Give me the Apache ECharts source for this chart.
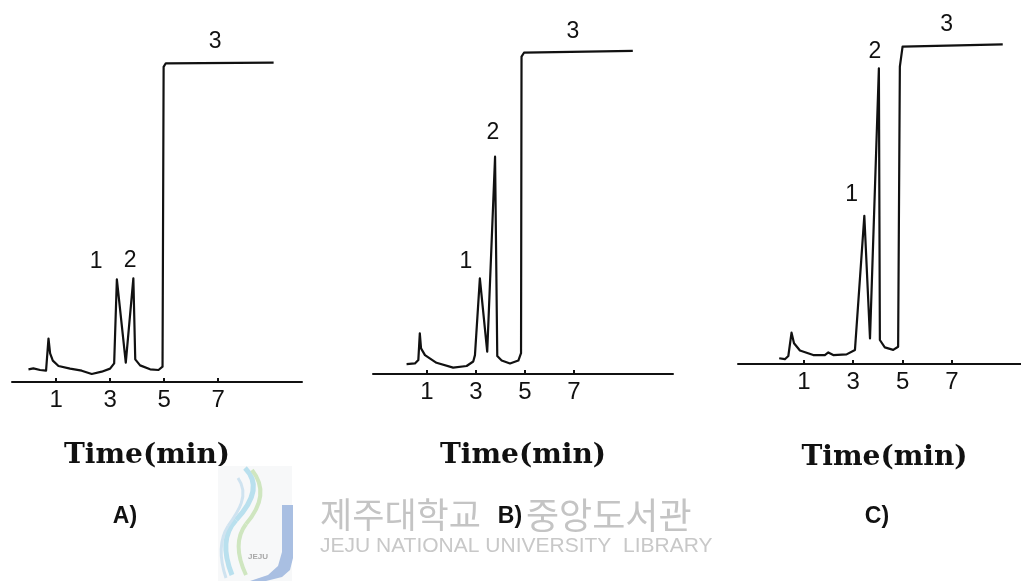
<!DOCTYPE html>
<html>
<head>
<meta charset="utf-8">
<script src="https://cdn.jsdelivr.net/npm/echarts@6/dist/echarts.min.js"></script>
<style>
  html, body { margin: 0; padding: 0; background: #fff; }
  #chart { width: 1021px; height: 581px; }
</style>
</head>
<body>
<div id="chart"></div>
<script>
// Retention time (min) and detector response (relative, plateau of peak 3 ~ 100)
const timeA   = [-0.02, 0.16, 0.41, 0.63, 0.72, 0.78, 0.88, 1.09, 1.52, 1.95, 2.32, 2.69, 3.00, 3.15, 3.25, 3.58, 3.86, 3.93, 4.11, 4.48, 4.79, 4.94, 4.98, 5.06, 9.05];
const signalA = [3.97, 4.27, 3.75, 3.54, 13.6, 8.96, 6.67, 5.0, 4.17, 3.54, 2.5, 3.23, 4.17, 5.83, 32.1, 6.04, 32.4, 7.08, 5.2, 3.96, 3.75, 4.79, 98.5, 99.6, 99.8];

const timeB   = [0.17, 0.51, 0.65, 0.71, 0.76, 0.92, 1.39, 2.07, 2.62, 2.89, 2.96, 3.16, 3.46, 3.78, 3.87, 4.05, 4.39, 4.73, 4.84, 4.86, 4.96, 9.40];
const signalB = [3.1, 3.3, 4.4, 12.7, 8.0, 5.9, 3.5, 2.0, 2.5, 3.9, 5.9, 29.9, 7.0, 67.9, 5.6, 4.2, 3.3, 4.2, 6.5, 99.2, 100.4, 101.0];

const timeC   = [0.00, 0.23, 0.37, 0.50, 0.60, 0.84, 1.38, 1.85, 1.99, 2.19, 2.73, 3.07, 3.45, 3.68, 4.04, 4.08, 4.28, 4.62, 4.82, 4.89, 5.00, 9.06];
const signalC = [1.8, 1.5, 2.5, 9.8, 6.5, 4.2, 2.8, 2.8, 3.6, 2.8, 3.0, 4.4, 46.3, 8.0, 92.4, 7.5, 5.2, 4.4, 5.4, 92.9, 99.2, 99.9];

// Peak numbers: [name, time, height of the label]
const peakLabelsA = [['1', 2.48, 37.5], ['2', 3.74, 37.8], ['3', 6.89, 106.3]];
const peakLabelsB = [['1', 2.59, 35.0], ['2', 3.69, 75.3], ['3', 6.96, 106.9]];
const peakLabelsC = [['1', 2.94, 52.8], ['2', 3.88, 97.5], ['3', 6.79, 105.9]];

const tickValues = [1, 3, 5, 7];
const axisTitle = 'Time(min)';
const panelTitles = ['A)', 'B)', 'C)'];

const zip = (xs, ys) => xs.map((x, i) => [x, ys[i]]);

// Panel geometry (pixels): axis line ends and baseline position
const panels = [
  { left: 12,  width: 290, bottom: 382, min: -0.63, max: 10.10, nameGap: 60, namePad: [0, 20, 0, 0], data: zip(timeA, signalA), peaks: peakLabelsA },
  { left: 373, width: 300, bottom: 374, min: -1.20, max: 11.04, nameGap: 68, namePad: [0, 0, 0, 0],  data: zip(timeB, signalB), peaks: peakLabelsB },
  { left: 738, width: 283, bottom: 364, min: -1.67, max: 9.80,  nameGap: 80, namePad: [0, 0, 0, 10], data: zip(timeC, signalC), peaks: peakLabelsC }
];
const yMax = 110;
const pxPerUnit = 3.2;

const ink = '#111';
const grids = [], xAxes = [], yAxes = [], series = [];

panels.forEach((p, i) => {
  grids.push({ left: p.left, width: p.width, top: p.bottom - yMax * pxPerUnit, height: yMax * pxPerUnit, containLabel: false });
  xAxes.push({
    gridIndex: i, type: 'value', min: p.min, max: p.max,
    axisLine: { show: true, onZero: false, lineStyle: { color: ink, width: 2 } },
    axisTick: { show: true, inside: true, length: 4, customValues: tickValues, lineStyle: { color: ink, width: 2 } },
    axisLabel: { customValues: tickValues, margin: 6, fontSize: 24, color: ink, fontFamily: 'Liberation Sans' },
    splitLine: { show: false },
    name: axisTitle, nameLocation: 'middle', nameGap: p.nameGap,
    nameTextStyle: { fontFamily: 'DejaVu Serif', fontWeight: 'bold', fontSize: 28, color: ink, padding: p.namePad }
  });
  yAxes.push({ gridIndex: i, type: 'value', min: 0, max: yMax, show: false });
  series.push({
    type: 'line', xAxisIndex: i, yAxisIndex: i, data: p.data,
    symbol: 'none', smooth: false,
    lineStyle: { color: ink, width: 2.2, join: 'round' },
    markPoint: {
      symbol: 'circle', symbolSize: 0, silent: true,
      label: { show: true, position: 'inside', formatter: '{b}', fontSize: 23, color: ink, fontFamily: 'Liberation Sans' },
      data: p.peaks.map(([name, t, h]) => ({ name, coord: [t, h] }))
    }
  });
});

// Library watermark (logo + name) drawn beneath the panel captions
const curve = (pts, color, w) => ({
  type: 'bezierCurve', z: 2,
  shape: { x1: pts[0], y1: pts[1], cpx1: pts[2], cpy1: pts[3], cpx2: pts[4], cpy2: pts[5], x2: pts[6], y2: pts[7] },
  style: { fill: 'none', stroke: color, lineWidth: w }
});
const markText = (x, y, text, size) => ({
  type: 'text', z: 2,
  style: { x, y, text, fontSize: size, fill: '#c4c4c4', align: 'left', verticalAlign: 'middle', fontFamily: 'Noto Sans CJK KR' }
});
const watermark = [
  { type: 'rect', shape: { x: 218, y: 466, width: 74, height: 115 }, style: { fill: '#f7f8f9' }, z: 1 },
  curve([245, 468, 262, 485, 250, 505, 236, 520], '#b9e0ee', 5),
  curve([236, 520, 222, 535, 224, 555, 232, 575], '#b9e0ee', 5),
  curve([252, 470, 268, 490, 258, 510, 246, 524], '#cfe6c0', 4),
  curve([246, 524, 234, 540, 238, 558, 246, 575], '#cfe6c0', 4),
  curve([238, 478, 250, 495, 238, 512, 228, 526], '#cfe3f0', 3),
  curve([228, 526, 218, 542, 220, 560, 226, 578], '#cfe3f0', 3),
  { type: 'polygon', z: 2,
    shape: { points: [[282, 505], [293, 505], [293, 558], [290, 570], [282, 577], [266, 581], [250, 581], [268, 575], [278, 566], [282, 552]] },
    style: { fill: '#a9bfe2' } },
  { type: 'text', z: 3, style: { x: 258, y: 557, text: 'JEJU', fontSize: 8, fill: '#a8a8a8', align: 'center', verticalAlign: 'middle', fontFamily: 'Liberation Sans', fontWeight: 'bold' } },
  markText(320, 515, '제주대학교', 35),
  markText(526, 515, '중앙도서관', 36),
  { type: 'text', z: 2, style: { x: 320, y: 546, text: 'JEJU NATIONAL UNIVERSITY  LIBRARY', fontSize: 21, fill: '#c8c8c8', align: 'left', verticalAlign: 'middle', fontFamily: 'Liberation Sans' } }
];

const captionX = [125, 510, 877];
const captions = panelTitles.map((t, i) => ({
  type: 'text', z: 10,
  style: { x: captionX[i], y: 517, text: t, fontSize: 23, fontWeight: 'bold', fill: ink, align: 'center', verticalAlign: 'middle', fontFamily: 'Liberation Sans' }
}));

const chart = echarts.init(document.getElementById('chart'), null, { renderer: 'canvas' });
chart.setOption({
  animation: false,
  backgroundColor: '#fff',
  grid: grids,
  xAxis: xAxes,
  yAxis: yAxes,
  series: series,
  graphic: watermark.concat(captions)
});
</script>
</body>
</html>
